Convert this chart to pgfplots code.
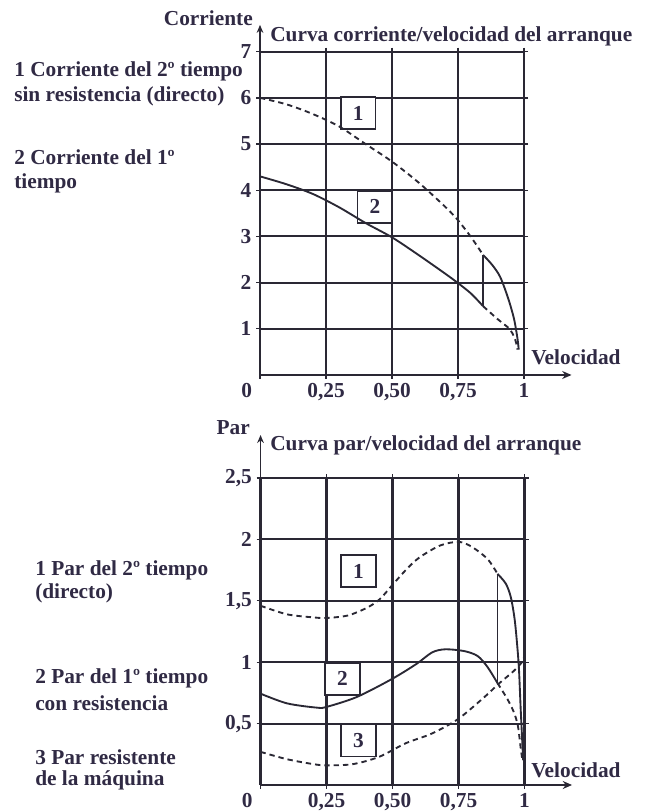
\documentclass[border=0pt]{standalone}
\usepackage{pgfplots}
\pgfplotsset{compat=1.18}
\usepackage{fontspec}
\setmainfont{Liberation Serif}
\usetikzlibrary{arrows.meta}

\definecolor{ink}{RGB}{48,42,68}
\definecolor{rule}{RGB}{42,40,52}
\newcommand{\lab}{\fontsize{16}{19}\selectfont\bfseries}

\pgfplotsset{
  motor/.style={
    scale only axis, width=198pt, clip=false,
    xmin=0, xmax=1, anchor=south west,
    axis line style={draw=none},
    grid=major, grid style={rule, line width=1.6pt},
    tick align=outside, major tick length=3pt,
    tick style={rule, line width=1pt},
    xtick={0,0.25,0.5,0.75,1},
    xticklabels={\makebox[0pt][r]{0\hspace{6pt}},{0,25},{0,50},{0,75},1},
    ticklabel style={font=\lab, text=ink},
  },
  path1/.style={rule, line width=1.4pt, smooth},
  dash1/.style={rule, line width=1.4pt, smooth, dash pattern=on 4pt off 3pt},
}
\tikzset{
  numbox/.style={draw=rule, line width=1.4pt, fill=white, font=\lab, text=ink,
    minimum width=26pt, minimum height=24pt, inner sep=0pt},
  txt/.style={font=\lab, text=ink, inner sep=0pt, anchor=west},
}

\begin{document}
\begin{tikzpicture}
\useasboundingbox (0,0) rectangle (483.75pt,608.25pt);

% ---------- current / speed ----------
\begin{axis}[motor, at={(195pt,327pt)}, height=242.5pt,
  ymin=0, ymax=7, ytick={1,2,3,4,5,6,7}, yticklabels={1,2,3,4,5,6,7}]
  \draw[rule, line width=1.6pt, -{Stealth[length=7pt,width=6pt]}] (axis cs:0,0) -- (axis cs:1.18,0);
  \draw[rule, line width=1.4pt, -{Stealth[length=6pt,width=5pt]}] (axis cs:0,0) -- (axis cs:0,7.58);
  \node[numbox] at (axis cs:0.372,5.67) {1};
  \node[numbox] at (axis cs:0.435,3.64) {2};
  % 2nd time, direct on line
  \addplot[dash1] coordinates {(0,6) (0.1,5.86) (0.2,5.65) (0.3,5.38) (0.4,5.0)
    (0.5,4.62) (0.6,4.17) (0.7,3.65) (0.75,3.35) (0.8,2.98) (0.845,2.6)};
  \addplot[path1] coordinates {(0.845,2.6) (0.88,2.38) (0.91,2.12) (0.94,1.66)
    (0.962,1.22) (0.975,0.8) (0.98,0.55)};
  % 1st time
  \addplot[path1] coordinates {(0,4.3) (0.1,4.13) (0.2,3.92) (0.3,3.63) (0.4,3.29)
    (0.5,2.98) (0.6,2.6) (0.7,2.2) (0.75,1.99) (0.8,1.76) (0.845,1.49)};
  \addplot[dash1] coordinates {(0.845,1.49) (0.9,1.21) (0.945,1.0) (0.962,0.83)
    (0.97,0.7) (0.975,0.55)};
  % switching
  \addplot[rule, line width=1.4pt] coordinates {(0.845,1.49) (0.845,2.6)};
\end{axis}

\node[txt, anchor=east] at (189.75pt,594.75pt) {Corriente};
\node[txt] at (202.5pt,580.7pt) {Curva corriente/velocidad del arranque};
\node[txt] at (398.25pt,340.5pt) {Velocidad};
\node[txt] at (10.5pt,554.5pt) {1 Corriente del 2º tiempo};
\node[txt] at (10.5pt,535.7pt) {sin resistencia (directo)};
\node[txt] at (10.5pt,490.7pt) {2 Corriente del 1º};
\node[txt] at (10.5pt,470.8pt) {tiempo};

% ---------- torque / speed ----------
\begin{axis}[motor, at={(195.4pt,19.5pt)}, height=230.25pt,
  ymin=0, ymax=2.5, ytick={0.5,1,1.5,2,2.5}, yticklabels={{0,5},1,{1,5},2,{2,5}}]
  \draw[rule, line width=1.6pt, -{Stealth[length=7pt,width=6pt]}] (axis cs:0,0) -- (axis cs:1.18,0);
  \draw[rule, line width=1.4pt, -{Stealth[length=6pt,width=5pt]}] (axis cs:0,0) -- (axis cs:0,2.85);
  \node[numbox] at (axis cs:0.371,1.743) {1};
  \node[numbox] at (axis cs:0.31,0.866) {2};
  \node[numbox] at (axis cs:0.371,0.362) {3};
  % 2nd time, direct on line
  \addplot[dash1] coordinates {(0,1.46) (0.1,1.39) (0.2,1.365) (0.25,1.36) (0.33,1.38)
    (0.4,1.44) (0.45,1.51) (0.5,1.63) (0.55,1.75) (0.6,1.85) (0.68,1.95) (0.75,1.98)
    (0.8,1.94) (0.86,1.84) (0.8975,1.72)};
  \addplot[path1] coordinates {(0.8975,1.72) (0.929,1.64) (0.948,1.53) (0.9625,1.35)
    (0.9725,1.13) (0.979,0.94) (0.985,0.64) (0.991,0.37) (0.995,0.2)};
  % 1st time, with resistance
  \addplot[path1] coordinates {(0,0.744) (0.1,0.665) (0.213,0.63) (0.25,0.636)
    (0.365,0.717) (0.5,0.866) (0.592,0.988) (0.65,1.08) (0.7,1.105) (0.7725,1.09)
    (0.8225,1.05) (0.86,0.96) (0.8975,0.83)};
  \addplot[dash1] coordinates {(0.8975,0.83) (0.935,0.7) (0.96,0.59) (0.975,0.48)
    (0.985,0.31) (0.992,0.2)};
  % switching
  \addplot[rule, line width=1.4pt] coordinates {(0.8975,0.83) (0.8975,1.72)};
  % load torque
  \addplot[dash1] coordinates {(0,0.27) (0.1,0.21) (0.2,0.17) (0.25,0.16) (0.35,0.17)
    (0.45,0.23) (0.55,0.34) (0.65,0.42) (0.75,0.54) (0.85,0.72) (0.9,0.82)
    (0.96,0.93) (0.99,1.0) (1.0,1.05)};
\end{axis}

\node[txt, anchor=east] at (187.5pt,287.25pt) {Par};
\node[txt] at (202.5pt,274.5pt) {Curva par/velocidad del arranque};
\node[txt] at (398.25pt,30.75pt) {Velocidad};
\node[txt] at (26.25pt,180.75pt) {1 Par del 2º tiempo};
\node[txt] at (26.25pt,163.5pt) {(directo)};
\node[txt] at (26.25pt,99.75pt) {2 Par del 1º tiempo};
\node[txt] at (26.25pt,81pt) {con resistencia};
\node[txt] at (26.25pt,40.5pt) {3 Par resistente};
\node[txt] at (26.25pt,23.25pt) {de la máquina};
\end{tikzpicture}
\end{document}
